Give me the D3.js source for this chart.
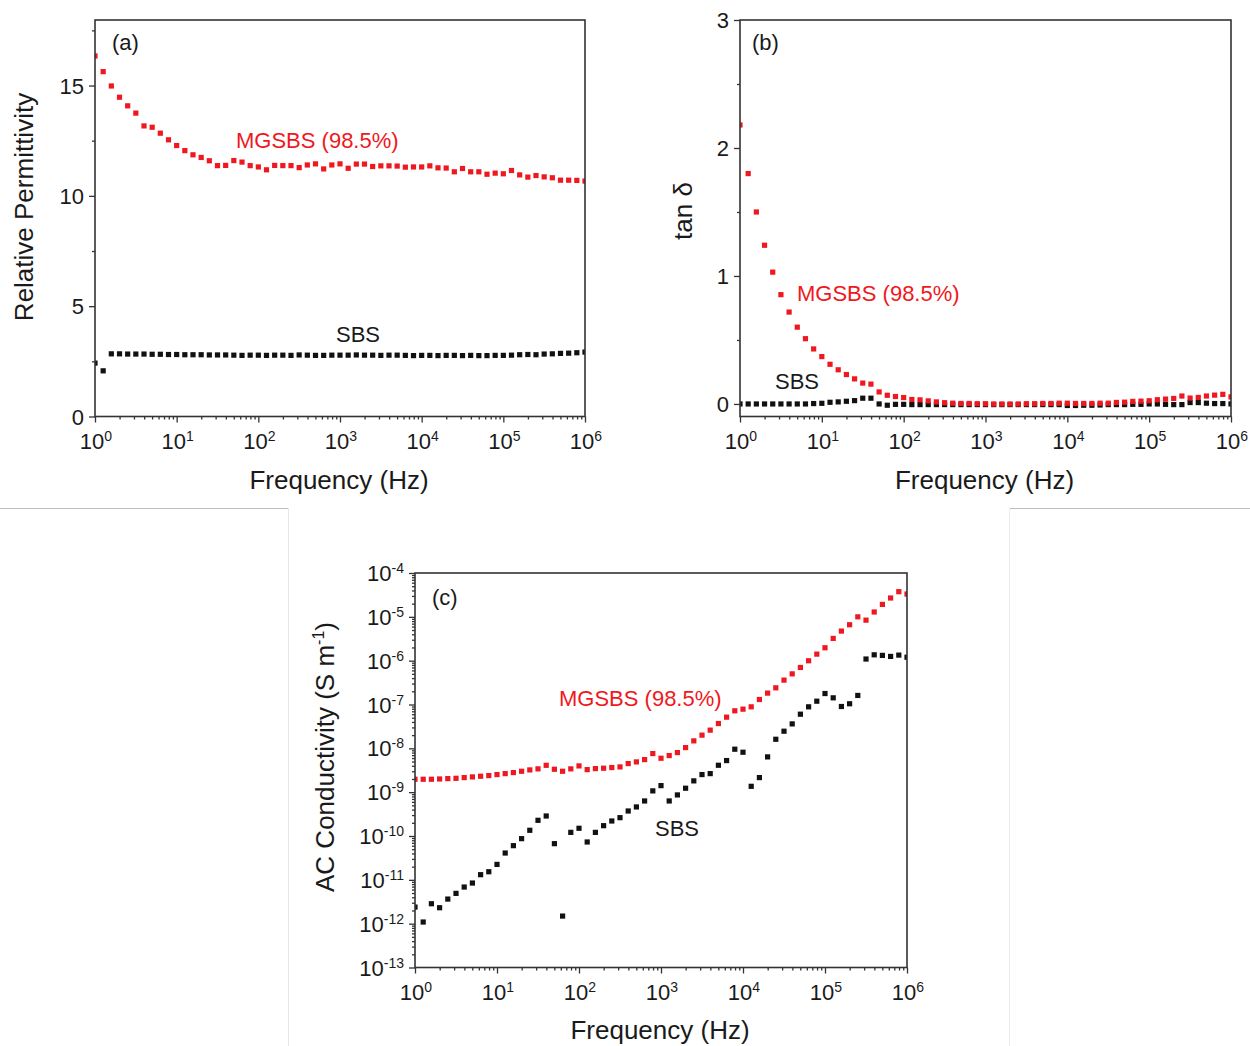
<!DOCTYPE html>
<html><head><meta charset="utf-8">
<script src="https://cdn.jsdelivr.net/npm/d3@7"></script>
<style>
body{margin:0;background:#fff;}
svg{display:block;font-family:Arial,"Liberation Sans",sans-serif;}
</style>
</head><body>
<svg id="chart" width="1250" height="1046"></svg>
<script>
// ---------- DATA ----------
// frequency grid (log10 of Hz), 10 points per decade
const logFreq = [0.0,0.1,0.2,0.3,0.4,0.5,0.6,0.7,0.8,0.9,
  1.0,1.1,1.2,1.3,1.4,1.5,1.6,1.7,1.8,1.9,
  2.0,2.1,2.2,2.3,2.4,2.5,2.6,2.7,2.8,2.9,
  3.0,3.1,3.2,3.3,3.4,3.5,3.6,3.7,3.8,3.9,
  4.0,4.1,4.2,4.3,4.4,4.5,4.6,4.7,4.8,4.9,
  5.0,5.1,5.2,5.3,5.4,5.5,5.6,5.7,5.8,5.9,6.0];

// (a) relative permittivity
const permMGSBS = [16.34,15.63,14.98,14.47,14.08,13.75,13.17,13.11,12.84,12.54,
  12.28,12.05,11.86,11.74,11.59,11.37,11.38,11.60,11.53,11.37,
  11.31,11.18,11.38,11.37,11.37,11.28,11.40,11.45,11.22,11.40,
  11.45,11.25,11.44,11.44,11.33,11.36,11.36,11.35,11.30,11.31,
  11.31,11.36,11.27,11.26,11.09,11.24,11.09,11.09,10.98,11.03,
  11.00,11.15,10.95,10.85,10.92,10.86,10.82,10.71,10.71,10.70,10.67];
const permSBS = [2.42,2.07,2.84,2.84,2.83,2.83,2.83,2.82,2.82,2.81,
  2.81,2.80,2.80,2.80,2.79,2.79,2.79,2.78,2.77,2.78,
  2.78,2.77,2.78,2.78,2.77,2.79,2.78,2.77,2.77,2.78,
  2.78,2.78,2.79,2.78,2.78,2.77,2.78,2.78,2.77,2.76,
  2.77,2.77,2.76,2.77,2.77,2.76,2.77,2.76,2.76,2.77,
  2.77,2.78,2.80,2.81,2.80,2.83,2.84,2.86,2.87,2.89,2.92];

// (b) tan delta
const tanMGSBS = [2.18,1.80,1.50,1.24,1.03,0.854,0.718,0.60,0.51,0.43,
  0.37,0.31,0.267,0.23,0.196,0.163,0.155,0.094,0.068,0.058,
  0.050,0.035,0.032,0.024,0.016,0.010,0.006,0.004,0.004,0.002,
  0.002,0.0,0.0,0.0,0.0,0.002,0.002,0.004,0.004,0.006,
  0.006,0.004,0.004,0.004,0.006,0.006,0.012,0.014,0.020,0.022,
  0.025,0.033,0.038,0.043,0.062,0.046,0.051,0.062,0.069,0.075,0.055];
const tanSBS = [0.0,0.0,0.0,0.0,0.0,0.0,0.0,0.0,0.0,0.003,
  0.005,0.013,0.016,0.021,0.026,0.045,0.045,0.0,-0.010,-0.003,
  -0.003,-0.005,-0.005,-0.005,-0.005,-0.005,-0.005,-0.005,-0.005,-0.005,
  -0.005,-0.005,-0.005,-0.005,-0.005,-0.005,-0.005,-0.005,-0.005,-0.005,
  -0.012,-0.012,-0.010,-0.010,-0.008,-0.005,-0.005,-0.005,-0.003,-0.003,
  0.0,0.0,-0.003,-0.005,-0.005,0.011,0.011,0.006,0.003,0.003,0.0];

// (c) AC conductivity (S/m)
const sigmaMGSBS = [1.97e-9,1.97e-9,1.97e-9,2.0e-9,2.04e-9,2.07e-9,2.15e-9,2.23e-9,2.31e-9,2.39e-9,
  2.52e-9,2.65e-9,2.8e-9,3.0e-9,3.22e-9,3.4e-9,4.1e-9,3.33e-9,3.0e-9,3.4e-9,
  3.97e-9,3.27e-9,3.45e-9,3.52e-9,3.64e-9,3.77e-9,4.49e-9,4.9e-9,5.53e-9,7.6e-9,
  5.94e-9,6.84e-9,8.0e-9,1.04e-8,1.48e-8,2.0e-8,2.6e-8,3.68e-8,5.14e-8,7.18e-8,
  7.83e-8,8.85e-8,1.3e-7,1.82e-7,2.4e-7,3.6e-7,5.0e-7,7.0e-7,9.95e-7,1.41e-6,
  1.97e-6,3.22e-6,4.73e-6,6.6e-6,1.0e-5,8.4e-6,1.29e-5,1.92e-5,2.69e-5,3.75e-5,3.31e-5];
const sigmaSBS = [2.39e-12,1.09e-12,2.85e-12,2.31e-12,3.64e-12,4.91e-12,6.85e-12,8.45e-12,1.31e-11,1.53e-11,
  2.25e-11,4.09e-11,6.02e-11,8.7e-11,1.35e-10,2.28e-10,2.86e-10,6.69e-11,1.49e-12,1.21e-10,
  1.5e-10,7.3e-11,1.21e-10,1.72e-10,2.2e-10,2.62e-10,3.72e-10,4.6e-10,6.3e-10,1.07e-9,
  1.41e-9,6.3e-10,8.65e-10,1.23e-9,1.81e-9,2.52e-9,2.65e-9,4.11e-9,5.26e-9,9.55e-9,
  8.15e-9,1.36e-9,2.15e-9,6.38e-9,1.61e-8,2.46e-8,3.61e-8,6.01e-8,8.85e-8,1.19e-7,
  1.78e-7,1.42e-7,9.0e-8,1.04e-7,1.61e-7,1.09e-6,1.36e-6,1.32e-6,1.25e-6,1.34e-6,1.2e-6];

// tick labels
const xTickExp = [0,1,2,3,4,5,6];
const permTicks = [0,5,10,15];
const tanTicks = [0,1,2,3];
const sigmaTickExp = [-4,-5,-6,-7,-8,-9,-10,-11,-12,-13];

const labelMG = "MGSBS (98.5%)";
const labelSBS = "SBS";
// ---------- DRAWING ----------
const RED = "#f01820", BLK = "#111111", AX = "#333333", TXT = "#1a1a1a";
const MS = 5.2;
const TICKFS = 22, SUPFS = 14, TITLEFS = 26, NOTEFS = 22;
const freq = logFreq.map(e => Math.pow(10, e));
const svg = d3.select("#chart");

// composite frame lines
svg.append("line").attr("x1",0).attr("x2",288).attr("y1",508.5).attr("y2",508.5).attr("stroke","#bdbdbd").attr("stroke-width",1);
svg.append("line").attr("x1",288.5).attr("x2",288.5).attr("y1",508).attr("y2",1046).attr("stroke","#e6e6e6").attr("stroke-width",1);
svg.append("line").attr("x1",1009).attr("x2",1250).attr("y1",508.5).attr("y2",508.5).attr("stroke","#bdbdbd").attr("stroke-width",1);
svg.append("line").attr("x1",1009.5).attr("x2",1009.5).attr("y1",508).attr("y2",1046).attr("stroke","#ececec").attr("stroke-width",1);

function supText(sel, base, sup, supFs, dy) {
  sel.append("tspan").text(base);
  sel.append("tspan").attr("font-size", supFs).attr("dy", -dy).text(sup);
}

function drawPanel(p) {
  const x = d3.scaleLog().domain([1, 1e6]).range([p.left, p.right]);
  const y = (p.logY ? d3.scaleLog() : d3.scaleLinear()).domain(p.yDomain).range([p.bottom, p.top]);
  const g = svg.append("g");
  const clipId = "clip-" + p.id;
  svg.append("clipPath").attr("id", clipId).append("rect")
    .attr("x", p.left).attr("y", p.top).attr("width", p.right - p.left).attr("height", p.bottom - p.top);

  p.series.forEach(s => {
    g.append("g").attr("clip-path", `url(#${clipId})`)
      .selectAll("rect").data(s.values.map((v, i) => [freq[i], v])).join("rect")
      .attr("x", d => x(d[0]) - MS / 2).attr("y", d => y(d[1]) - MS / 2)
      .attr("width", MS).attr("height", MS).attr("fill", s.color);
  });

  // x ticks
  const xMajor = xTickExp.map(e => Math.pow(10, e));
  const xMinor = [];
  for (let d = 0; d < 6; d++) for (let m = 2; m <= 9; m++) xMinor.push(m * Math.pow(10, d));
  const ax = g.append("g").attr("transform", `translate(0,${p.bottom})`);
  ax.call(d3.axisBottom(x).tickValues(xMajor).tickSize(6).tickFormat(""));
  ax.append("g").call(d3.axisBottom(x).tickValues(xMinor).tickSize(3).tickFormat(""));
  ax.selectAll(".domain").remove();
  ax.selectAll("line").attr("stroke", AX).attr("stroke-width", 1.3);

  // x tick labels
  xTickExp.forEach(e => {
    const t = g.append("text").attr("x", x(Math.pow(10, e)) + 1).attr("y", p.bottom + 32)
      .attr("text-anchor", "middle").attr("font-size", TICKFS).attr("fill", TXT);
    supText(t, "10", String(e), SUPFS, 8);
  });

  // y ticks
  const ay = g.append("g").attr("transform", `translate(${p.left},0)`);
  ay.call(d3.axisLeft(y).tickValues(p.yMajor).tickSize(6).tickFormat(""));
  ay.append("g").call(d3.axisLeft(y).tickValues(p.yMinor).tickSize(3).tickFormat(""));
  ay.selectAll(".domain").remove();
  ay.selectAll("line").attr("stroke", AX).attr("stroke-width", 1.3);

  // y tick labels
  p.yLabels.forEach(l => {
    const t = g.append("text").attr("x", p.left - 11).attr("y", y(l.v) + 8)
      .attr("text-anchor", "end").attr("font-size", TICKFS).attr("fill", TXT);
    if (l.sup !== undefined) supText(t, l.text, l.sup, SUPFS, 8);
    else t.text(l.text);
  });

  // frame
  g.append("rect").attr("x", p.left).attr("y", p.top)
    .attr("width", p.right - p.left).attr("height", p.bottom - p.top)
    .attr("fill", "none").attr("stroke", AX).attr("stroke-width", 1.6);

  // axis titles
  g.append("text").attr("x", (p.left + p.right) / 2 - 1).attr("y", p.xTitleY)
    .attr("text-anchor", "middle").attr("font-size", TITLEFS).attr("fill", TXT).text("Frequency (Hz)");
  const yt = g.append("text").attr("transform", `translate(${p.yTitleX},${p.yTitleCY}) rotate(-90)`)
    .attr("text-anchor", "middle").attr("font-size", TITLEFS).attr("fill", TXT);
  p.yTitle(yt);

  // annotations
  p.notes.forEach(n => {
    g.append("text").attr("x", n.x).attr("y", n.y).attr("font-size", NOTEFS)
      .attr("fill", n.color).text(n.text);
  });
}

drawPanel({
  id: "a", left: 95, right: 585, top: 20, bottom: 416.5, yDomain: [0, 17.97],
  yMajor: permTicks, yMinor: [2.5, 7.5, 12.5, 17.5],
  yLabels: permTicks.map(v => ({ v, text: String(v) })),
  series: [{ values: permSBS, color: BLK }, { values: permMGSBS, color: RED }],
  xTitleY: 489, yTitleX: 33, yTitleCY: 207,
  yTitle: t => t.text("Relative Permittivity"),
  notes: [
    { x: 112, y: 50, text: "(a)", color: TXT },
    { x: 236, y: 148, text: labelMG, color: RED },
    { x: 336, y: 342, text: labelSBS, color: TXT }
  ]
});

drawPanel({
  id: "b", left: 740, right: 1231, top: 20, bottom: 416.5, yDomain: [-0.098, 3],
  yMajor: tanTicks, yMinor: [0.5, 1.5, 2.5],
  yLabels: tanTicks.map(v => ({ v, text: String(v) })),
  series: [{ values: tanSBS, color: BLK }, { values: tanMGSBS, color: RED }],
  xTitleY: 489, yTitleX: 692, yTitleCY: 211,
  yTitle: t => { t.append("tspan").text("tan "); t.append("tspan").text("δ"); },
  notes: [
    { x: 752, y: 50, text: "(b)", color: TXT },
    { x: 797, y: 301, text: labelMG, color: RED },
    { x: 775, y: 389, text: labelSBS, color: TXT }
  ]
});

const cMinor = [];
for (let d = -13; d < -4; d++) for (let m = 2; m <= 9; m++) cMinor.push(m * Math.pow(10, d));
drawPanel({
  id: "c", left: 415, right: 907, top: 573, bottom: 967.5, logY: true, yDomain: [1e-13, 1e-4],
  yMajor: sigmaTickExp.map(e => Math.pow(10, e)), yMinor: cMinor,
  yLabels: sigmaTickExp.map(e => ({ v: Math.pow(10, e), text: "10", sup: String(e) })),
  series: [{ values: sigmaSBS, color: BLK }, { values: sigmaMGSBS, color: RED }],
  xTitleY: 1039, yTitleX: 334, yTitleCY: 757,
  yTitle: t => {
    t.append("tspan").text("AC Conductivity (S m");
    t.append("tspan").attr("font-size", 16).attr("dy", -10).text("-1");
    t.append("tspan").attr("dy", 10).text(")");
  },
  notes: [
    { x: 432, y: 605, text: "(c)", color: TXT },
    { x: 559, y: 706, text: labelMG, color: RED },
    { x: 655, y: 836, text: labelSBS, color: TXT }
  ]
});
</script>
</body></html>
